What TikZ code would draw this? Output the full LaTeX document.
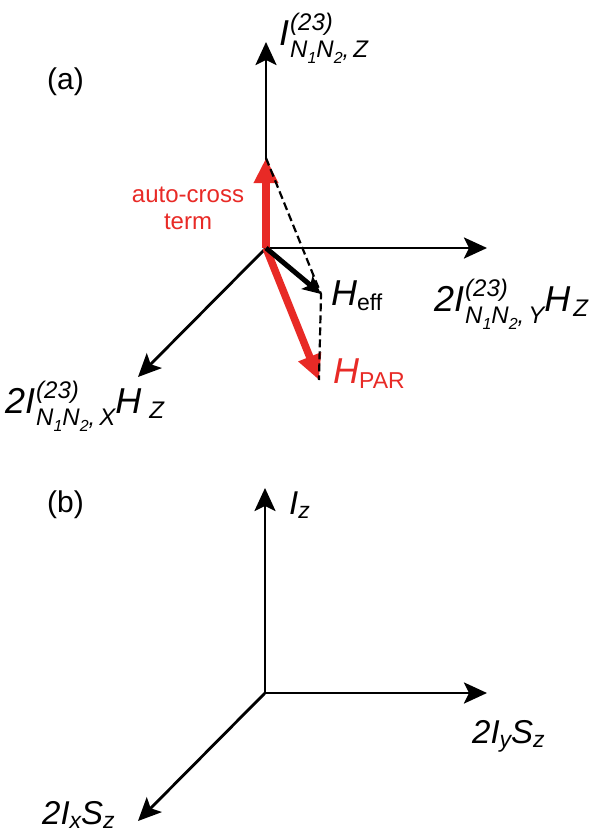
\documentclass[tikz,border=0pt]{standalone}
\usepackage{fontspec}
\setmainfont{Liberation Sans}
\usetikzlibrary{arrows.meta}
\definecolor{redv}{RGB}{232,42,38}
\newcommand{\bsz}{\fontsize{36}{40}\selectfont}
\newcommand{\ssz}{\fontsize{24}{27}\selectfont}
\newcommand{\tsz}{\fontsize{16}{18}\selectfont}
\newcommand{\NN}[1]{N\raisebox{-0.25em}{\tsz 1}N\raisebox{-0.25em}{\tsz 2},\,#1}
\newcommand{\tens}[3]{{\bsz #1}{\ssz\hspace{1pt}\rlap{\raisebox{0.6em}{#2}}\raisebox{-0.5em}{#3}}}
\begin{document}
\begin{tikzpicture}[x=1pt,y=-1pt,
  axis/.style={line width=2.8pt,-{Stealth[length=23pt,width=21pt,inset=5pt]}},
  redarrow/.style={draw=redv,line width=7.5pt,-{Triangle[length=25pt,width=23pt]},color=redv},
  effarrow/.style={line width=5pt,-{Stealth[length=18pt,width=17pt,inset=4pt]}},
  dashline/.style={line width=2.2pt,dash pattern=on 8pt off 4pt},
  lbl/.style={inner sep=0pt,anchor=base west,font=\itshape},
  tag/.style={inner sep=0pt,anchor=base west,font=\fontsize{30}{34}\selectfont},
  redtxt/.style={inner sep=0pt,text=redv,align=center,font=\fontsize{24}{27}\selectfont}]
\useasboundingbox (0,0) rectangle (590,833);
% ---- panel (a)
\coordinate (Oa) at (266,248);
\coordinate (Za) at (266,42);
\coordinate (Ya) at (487,248);
\coordinate (Xa) at (138,377);
\coordinate (Ac) at (266,158);
\coordinate (He) at (321,294);
\coordinate (Hp) at (319,380);
\node[tag] (la) at (47,89) {(a)};
\draw[axis] (Oa) -- (Za);
\draw[axis] (Oa) -- (Ya);
\draw[axis] (Oa) -- (Xa);
\draw[redarrow] (Oa) -- (Ac);
\draw[redarrow] (Oa) -- (Hp);
\draw[effarrow] (Oa) -- (He);
\draw[dashline] (Ac) -- (He) -- (Hp);
\node[lbl] (lz) at (279,45) {\tens{I}{(23)}{\NN{Z}}};
\node[lbl] (ly) at (434,311) {\tens{2I}{(23)}{\NN{Y}}{\bsz H}\hspace{3pt}\raisebox{-0.5em}{\ssz Z}};
\node[lbl] (lx) at (5,413) {\tens{2I}{(23)}{\NN{X}}{\bsz H}\hspace{8pt}\raisebox{-0.5em}{\ssz Z}};
\node[lbl] (lhe) at (331,305) {{\bsz H}\raisebox{-0.55em}{\upshape\fontsize{23}{25}\selectfont eff}};
\node[lbl,text=redv] (lhp) at (333,383) {{\bsz H}\raisebox{-0.5em}{\upshape\fontsize{23}{25}\selectfont PAR}};
\node[redtxt] (lac) at (188,208) {auto-cross\\term};
% ---- panel (b)
\coordinate (Ob) at (265,693);
\coordinate (Zb) at (265,488);
\coordinate (Yb) at (487,693);
\coordinate (Xb) at (138,821);
\node[tag] (lb) at (47,512) {(b)};
\draw[axis] (Ob) -- (Zb);
\draw[axis] (Ob) -- (Yb);
\draw[axis] (Ob) -- (Xb);
\node[lbl] (liz) at (289,514) {{\fontsize{33}{36}\selectfont I}\raisebox{-0.4em}{\fontsize{23}{25}\selectfont z}};
\node[lbl] (liy) at (472,743) {{\fontsize{33}{36}\selectfont 2I}\raisebox{-0.4em}{\fontsize{23}{25}\selectfont y}{\fontsize{33}{36}\selectfont S}\raisebox{-0.4em}{\fontsize{23}{25}\selectfont z}};
\node[lbl] (lix) at (42,824) {{\fontsize{33}{36}\selectfont 2I}\raisebox{-0.4em}{\fontsize{23}{25}\selectfont x}{\fontsize{33}{36}\selectfont S}\raisebox{-0.4em}{\fontsize{23}{25}\selectfont z}};
\end{tikzpicture}
\end{document}
